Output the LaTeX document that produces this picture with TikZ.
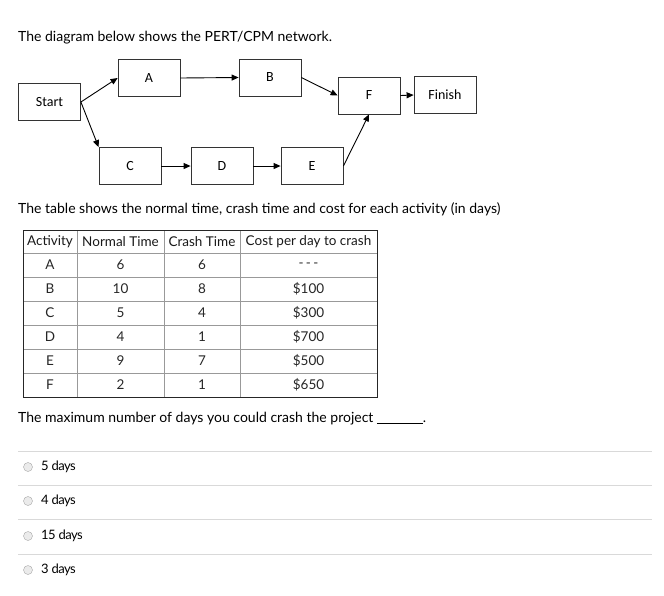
\documentclass[tikz,border=0pt]{standalone}
\usepackage{fontspec}
\setmainfont{Lato}
\newfontfamily\calib{Carlito}
\usetikzlibrary{arrows.meta}
\begin{document}
\begin{tikzpicture}[x=1pt,y=-1pt,
  bx/.style={draw=black!80,line width=0.8pt,minimum width=62pt,minimum height=37pt,inner sep=0pt,font=\calib\fontsize{14}{16}\selectfont},
  ar/.style={-{Triangle[length=7pt,width=6pt]},line width=0.9pt},
  txt/.style={anchor=west,inner sep=0pt,font=\fontsize{14}{16}\selectfont},
  cell/.style={inner sep=0pt,font=\fontsize{13.5}{15}\selectfont,text=black!85},
  sep/.style={draw=black!15,line width=0.8pt},
  rad/.style={circle,draw=black!35,fill=black!8,minimum size=9pt,inner sep=0pt},
  opt/.style={anchor=west,inner sep=0pt,font=\fontsize{13}{15}\selectfont\addfontfeatures{LetterSpace=-4}}]
\useasboundingbox (0,0) rectangle (664,595);
\node[txt] (t1) at (18,38) {The diagram below shows the PERT/CPM network.};
\node[bx] (st) at (49.5,102) {Start};
\node[bx] (a) at (149,78) {A};
\node[bx] (b) at (270,77.5) {B};
\node[bx] (f) at (369,95.5) {F};
\node[bx] (fi) at (445,95) {Finish};
\node[bx] (c) at (130,166) {C};
\node[bx] (d) at (222,166) {D};
\node[bx] (e) at (312,166) {E};
\draw[ar] (st.east) -- (a.west);
\draw[ar] (st.east) -- (c.north west);
\draw[ar] (a.east) -- (b.west);
\draw[ar] (b.east) -- (f.west);
\draw[ar] (f.east) -- (fi.west);
\draw[ar] (c.east) -- (d.west);
\draw[ar] (d.east) -- (e.west);
\draw[ar] (e.east) -- (f.south);
\node[txt] (t2) at (18,209) {The table shows the normal time, crash time and cost for each activity (in days)};
% table
\foreach \y in {253,277,301,325,349,373} \draw[black!40,line width=0.8pt] (23,\y) -- (377,\y);
\foreach \x in {77,164,240} \draw[black!40,line width=0.8pt] (\x,230) -- (\x,397);
\draw[black!85,line width=0.9pt] (23,230) rectangle (377,397);
\node[cell,text=black!90] (h1) at (50,242) {Activity};
\node[cell,text=black!90] (h2) at (120.5,242) {Normal Time};
\node[cell,text=black!90] (h3) at (202,242) {Crash Time};
\node[cell,text=black!90] (h4) at (308.5,242) {Cost per day to crash};
\foreach \i/\ac/\n/\cr/\co in {0/A/6/6/{-\,-\,-},1/B/10/8/\$100,2/C/5/4/\$300,3/D/4/1/\$700,4/E/9/7/\$500,5/F/2/1/\$650}{
  \node[cell] (r\i a) at (50,265+24*\i) {\ac};
  \node[cell] (r\i b) at (120.5,265+24*\i) {\n};
  \node[cell] (r\i c) at (202,265+24*\i) {\cr};
  \node[cell] (r\i d) at (308.5,265+24*\i) {\co};
}
\node[txt] (q) at (18,419) {The maximum number of days you could crash the project \rule[-1pt]{46pt}{0.6pt}.};
\foreach \y in {451,485,519,554} \draw[sep] (18,\y) -- (652,\y);
\foreach \i/\y/\t in {1/467/5 days,2/501/4 days,3/536/15 days,4/570/3 days}{
  \node[rad] (r\i) at (28,\y) {};
  \node[opt] (o\i) at (41,\y) {\t};
}
\end{tikzpicture}
\end{document}
